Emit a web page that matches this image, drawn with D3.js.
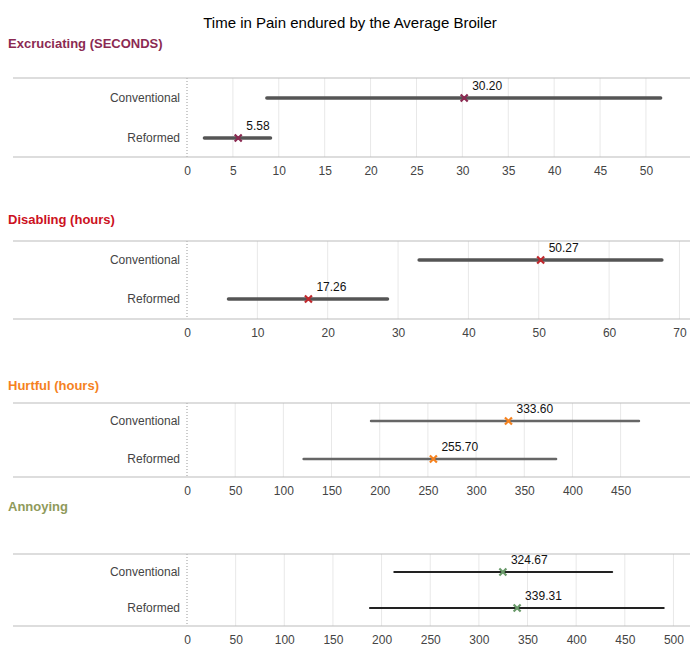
<!DOCTYPE html><html><head><meta charset="utf-8"><script src="https://cdn.jsdelivr.net/npm/d3@7"></script>
<style>body{margin:0;background:#fff;font-family:Arial,"Liberation Sans",sans-serif}</style></head><body><svg id="c" width="699" height="660"></svg><script>
const categories=["Conventional","Reformed"];
const panelTitles=["Excruciating (SECONDS)","Disabling (hours)","Hurtful (hours)","Annoying"];
const means=[[30.20,5.58],[50.27,17.26],[333.60,255.70],[324.67,339.31]];
const lows=[[8.7,1.9],[33,5.9],[191,121],[213,188]];
const highs=[[51.6,9.1],[67.5,28.5],[469,383],[437,490]];
const tickVals=[d3.range(0,55,5),d3.range(0,80,10),d3.range(0,500,50),d3.range(0,550,50)];
const domMax=[54.8,71.5,522,517];
const layout=[{t:48,top:78,bot:157,r:[98,138]},{t:224,top:241,bot:319,r:[260,299]},{t:390,top:403,bot:477,r:[421,459]},{t:511,top:554,bot:626,r:[572,608]}];
const titleCol=["#8b2a52","#cc1122","#f5821f","#8f9a5b"];
const markCol=["#8b2a52","#c0282d","#f5821f","#6a9a6a"];
const lineCol=["#555","#555","#666","#222"];
const lineW=[3.5,3.5,2.5,2];
const svg=d3.select("#c");
svg.append("text").attr("x",350).attr("y",28).attr("text-anchor","middle").attr("font-size",15).text("Time in Pain endured by the Average Broiler");
layout.forEach((L,i)=>{
 const g=svg.append("g");
 const x=d3.scaleLinear().domain([0,domMax[i]]).range([187,690]);
 const y=d3.scaleBand().domain(categories).range([L.top,L.bot]);
 g.append("text").attr("x",8).attr("y",L.t).attr("font-size",13).attr("font-weight","bold").attr("fill",titleCol[i]).text(panelTitles[i]);
 g.selectAll(".gl").data(tickVals[i].slice(1)).join("line").attr("x1",d=>x(d)).attr("x2",d=>x(d)).attr("y1",L.top).attr("y2",L.bot).attr("stroke","#e8e8e8");
 g.append("line").attr("x1",x(0)).attr("x2",x(0)).attr("y1",L.top).attr("y2",L.bot).attr("stroke","#999").attr("stroke-dasharray","1,2");
 [L.top,L.bot].forEach(v=>g.append("line").attr("x1",13).attr("x2",690).attr("y1",v).attr("y2",v).attr("stroke","#bbb"));
 const ax=g.append("g").attr("transform",`translate(0,${L.bot})`).call(d3.axisBottom(x).tickValues(tickVals[i]).tickSize(0).tickPadding(9));
 ax.select(".domain").remove();ax.selectAll("text").attr("font-size",12).attr("fill","#444").attr("font-family","Arial,'Liberation Sans',sans-serif");
 categories.forEach((c,j)=>{
  const cy=L.r[j];
  g.append("text").attr("x",180).attr("y",cy+4).attr("text-anchor","end").attr("font-size",12).attr("fill","#444").text(c);
  g.append("line").attr("x1",x(lows[i][j])).attr("x2",x(highs[i][j])).attr("y1",cy).attr("y2",cy).attr("stroke",lineCol[i]).attr("stroke-width",lineW[i]).attr("stroke-linecap","round");
  const mx=x(means[i][j]),s=3.5;
  g.append("path").attr("d",`M${mx-s},${cy-s}L${mx+s},${cy+s}M${mx-s},${cy+s}L${mx+s},${cy-s}`).attr("stroke",markCol[i]).attr("stroke-width",2.2);
  g.append("text").attr("x",mx+8).attr("y",cy-8).attr("font-size",12).attr("fill","#111").text(means[i][j].toFixed(2));
 });
});
</script></body></html>
